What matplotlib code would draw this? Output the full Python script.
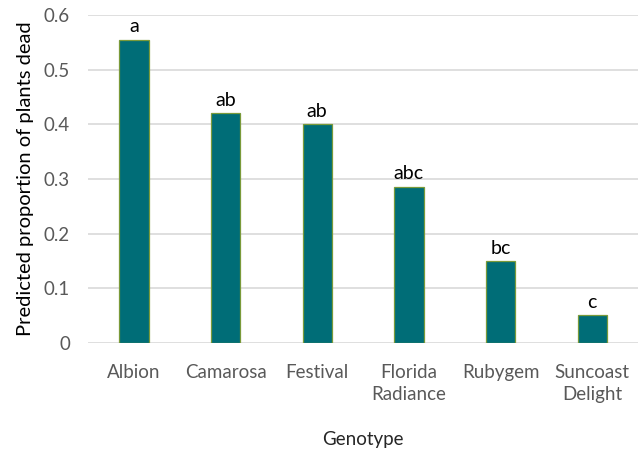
import matplotlib.pyplot as plt
import numpy as np

# Data
genotypes = ["Albion", "Camarosa", "Festival", "Florida\nRadiance", "Rubygem", "Suncoast\nDelight"]
proportion_dead = [0.555, 0.421, 0.400, 0.286, 0.150, 0.051]
letters = ["a", "ab", "ab", "abc", "bc", "c"]
yticks = [0, 0.1, 0.2, 0.3, 0.4, 0.5, 0.6]

plt.rcParams['font.family'] = ['Lato', 'DejaVu Sans']

fig = plt.figure(figsize=(6.38, 4.54), dpi=100)
ax = fig.add_axes([0.138, 0.2445, 0.862, 0.7225])

x = np.arange(len(genotypes))
ax.bar(x, proportion_dead, width=0.32, color="#006d77", edgecolor="#7a9a3a",
       linewidth=0.9, zorder=3)

for xi, v, lab in zip(x, proportion_dead, letters):
    ax.annotate(lab, (xi, v), xytext=(0, 3), textcoords="offset points",
                ha="center", va="bottom", fontsize=14, color="#000000")

ax.set_xlim(-0.5, len(genotypes) - 0.5)
ax.set_ylim(0, 0.6)
ax.set_yticks(yticks)
ax.set_yticklabels(["0", "0.1", "0.2", "0.3", "0.4", "0.5", "0.6"])
ax.set_xticks(x)
ax.set_xticklabels(genotypes, linespacing=1.4)

ax.grid(axis="y", color="#d9d9d9", linewidth=1.2, zorder=0)
for s in ax.spines.values():
    s.set_visible(False)
ax.tick_params(axis="both", length=0, labelsize=13.5, labelcolor="#595959")
ax.tick_params(axis="y", pad=13)
ax.tick_params(axis="x", pad=15)

ax.set_ylabel("Predicted proportion of plants dead", fontsize=14.5, color="#000000", labelpad=7)
ax.set_xlabel("Genotype", fontsize=13.5, color="#262626", labelpad=20)

fig.savefig("out.png", dpi=100)
